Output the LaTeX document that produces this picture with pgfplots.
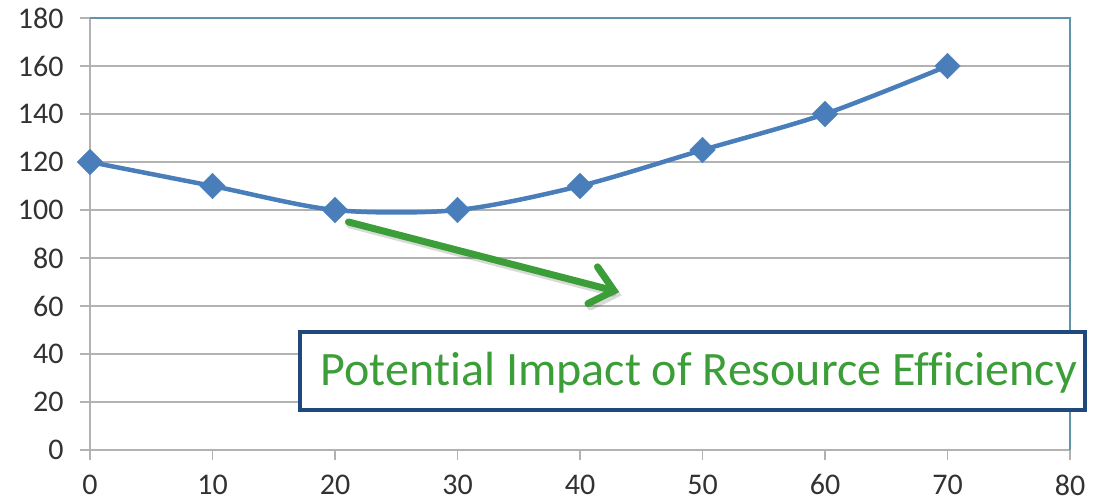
\documentclass[border=0pt]{standalone}
\usepackage{fontspec}
\setmainfont{Carlito}
\newfontfamily\boxfont[Ligatures={NoCommon}]{Carlito}
\usepackage{pgfplots}
\pgfplotsset{compat=1.18}
\usetikzlibrary{arrows.meta}

\definecolor{lineblue}{RGB}{74,126,187}
\definecolor{frameblue}{RGB}{96,146,170}
\definecolor{gridgray}{RGB}{178,178,178}
\definecolor{boxblue}{RGB}{31,73,125}
\definecolor{txtgreen}{RGB}{60,158,56}
\definecolor{labgray}{RGB}{50,50,50}

\begin{document}
\begin{tikzpicture}[x=1pt,y=1pt]
\path[use as bounding box] (0,0) rectangle (1103,503);
\begin{axis}[
    at={(90pt,53pt)}, anchor=south west,
    width=980pt, height=432pt, scale only axis,
    xmin=0, xmax=80, ymin=0, ymax=180,
    xtick={0,10,...,80}, ytick={0,20,...,180},
    axis lines=left,
    axis line style={-, gridgray, line width=1.5pt},
    ymajorgrids,
    grid style={gridgray, line width=1.5pt},
    tick align=outside,
    major tick length=10pt,
    tick style={gridgray, line width=1.5pt},
    ticklabel style={font=\fontsize{30}{34}\selectfont, text=labgray},
    yticklabel style={xshift=-13pt},
    xticklabel style={yshift=-11pt},
    /pgf/number format/assume math mode=true,
    clip=false,
]
\addplot[lineblue, line width=4.5pt, smooth, tension=0.5,
    mark=square*, mark size=9pt,
    mark options={rotate=45, fill=lineblue, draw=lineblue, line width=0.5pt}]
  coordinates {(0,120) (10,110) (20,100) (30,100) (40,110) (50,125) (60,140) (70,160)};

\draw[frameblue, line width=1.5pt] (rel axis cs:0,1) -- (rel axis cs:1,1) -- (rel axis cs:1,0);

% green arrow with a faint shadow
\draw[black, opacity=0.15, line width=7pt, line cap=round,
      -{Straight Barb[length=22pt, width=38pt, line cap=round]}]
  (axis cs:21.2,93.8) -- (axis cs:43.4,64.4);
\draw[txtgreen, line width=7pt, line cap=round,
      -{Straight Barb[length=22pt, width=38pt, line cap=round]}]
  (axis cs:21.1,95.0) -- (axis cs:43.2,65.8);

\node[draw=boxblue, line width=3.5pt, fill=white, minimum width=785pt, minimum height=78pt,
      inner sep=0pt] (box) at (axis cs:49.2,32.9) {};
\node[text=txtgreen, font=\boxfont\fontsize{48}{54}\selectfont, inner sep=0pt]
  at ([xshift=6pt, yshift=-2pt]box.center)
  {Poten\kern0pt tial Impact of Resource Ef\kern0pt f\kern0pt iciency};
\end{axis}
\end{tikzpicture}
\end{document}
